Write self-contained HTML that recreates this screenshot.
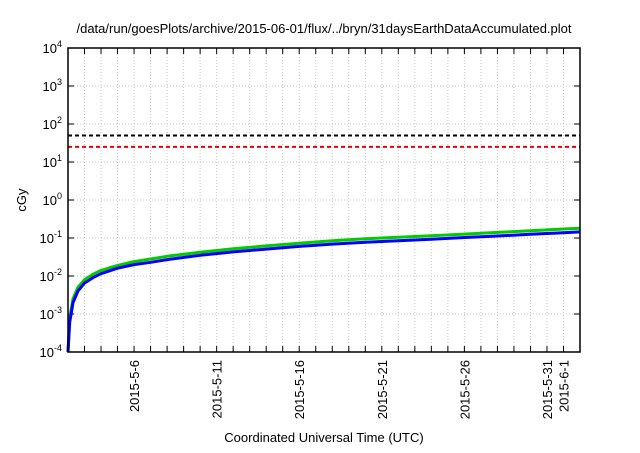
<!DOCTYPE html>
<html><head><meta charset="utf-8"><style>
body{margin:0;background:#fff;font-family:"Liberation Sans",sans-serif}
</style></head><body>
<svg id="c" width="640" height="448" xmlns="http://www.w3.org/2000/svg" font-family="Liberation Sans, sans-serif">
<rect width="640" height="448" fill="#fff"/>
<text x="324" y="33" text-anchor="middle" font-size="13">/data/run/goesPlots/archive/2015-06-01/flux/../bryn/31daysEarthDataAccumulated.plot</text>
<text x="324" y="442" text-anchor="middle" font-size="13">Coordinated Universal Time (UTC)</text>
<text transform="translate(26,200) rotate(-90)" text-anchor="middle" font-size="13">cGy</text>
<g id="g"></g>
</svg>
<script>
const days=[0,0.1,0.3,0.6,1,1.5,2,3,4,5,6,8,10,12,14,16,18,20,22,24,26,28,30,31];
const greenVals=[0.0001,0.0008,0.0025,0.005,0.008,0.011,0.014,0.019,0.024,0.028,0.033,0.042,0.052,0.062,0.073,0.085,0.095,0.105,0.115,0.127,0.14,0.155,0.172,0.18];
const blueVals=[0.0001,0.0006,0.002,0.004,0.0065,0.009,0.0115,0.016,0.02,0.023,0.027,0.035,0.043,0.051,0.06,0.069,0.077,0.085,0.093,0.103,0.113,0.125,0.138,0.145];
const thresholds=[50,25];
const yTicks=[-4,-3,-2,-1,0,1,2,3,4];
const xLabels=["2015-5-6","2015-5-11","2015-5-16","2015-5-21","2015-5-26","2015-5-31","2015-6-1"];
const xLabelDays=[4,9,14,19,24,29,30];
const L=68,R=580,T=48,B=352,ND=31;
const X=d=>L+(R-L)*d/ND;
const Y=v=>B-(Math.log10(v)+4)*(B-T)/8;
const NS="http://www.w3.org/2000/svg",g=document.getElementById('g');
function mk(t,a,p){const e=document.createElementNS(NS,t);for(const k in a)e.setAttribute(k,a[k]);(p||g).appendChild(e);return e;}
for(let d=1;d<ND;d++){
 const l=mk('line',{x1:X(d),x2:X(d),y1:T,y2:B,stroke:'#c8c8c8','stroke-dasharray':'1,2'});
 
 
 mk('line',{x1:X(d),x2:X(d),y1:B,y2:B-6,stroke:'#000'});
 mk('line',{x1:X(d),x2:X(d),y1:T,y2:T+6,stroke:'#000'});
}
yTicks.forEach(p=>{
 const y=Y(Math.pow(10,p));
 if(p>-4&&p<4){const l=mk('line',{x1:L,x2:R,y1:y,y2:y,stroke:'#c8c8c8','stroke-dasharray':'1,2'});
 
 }
 mk('line',{x1:L,x2:L+6,y1:y,y2:y,stroke:'#000'});
 mk('line',{x1:R,x2:R-6,y1:y,y2:y,stroke:'#000'});
 const t=mk('text',{x:L-6,y:y+5,'text-anchor':'end','font-size':'13'});
 
 
 t.innerHTML='10<tspan dy="-6" font-size="9">'+p+'</tspan>';
});
xLabels.forEach((s,i)=>{
 const x=X(xLabelDays[i]);
 const t=mk('text',{transform:`translate(${x+5},${B+8}) rotate(-90)`,'text-anchor':'end','font-size':'13'});
 
 
 t.textContent=s;
});
const cols=['#000','#e00'];
thresholds.forEach((v,i)=>{
 const l=mk('line',{x1:L,x2:R,y1:Y(v),y2:Y(v),stroke:cols[i],'stroke-width':2,'stroke-dasharray':'4,3'});
 
 
});
function path(vals,col,w,name){
 const p=mk('path',{d:vals.map((v,i)=>(i?'L':'M')+X(days[i]).toFixed(1)+','+Y(v).toFixed(1)).join(''),fill:'none',stroke:col,'stroke-width':w,'stroke-linejoin':'round'});
 
 
}
path(greenVals,'#0c0',3,'series-green');
path(blueVals,'#00f',3,'series-blue');
const f=mk('rect',{x:L,y:T,width:R-L,height:B-T,fill:'none',stroke:'#000','stroke-width':1.5});


</script>
</body></html>
